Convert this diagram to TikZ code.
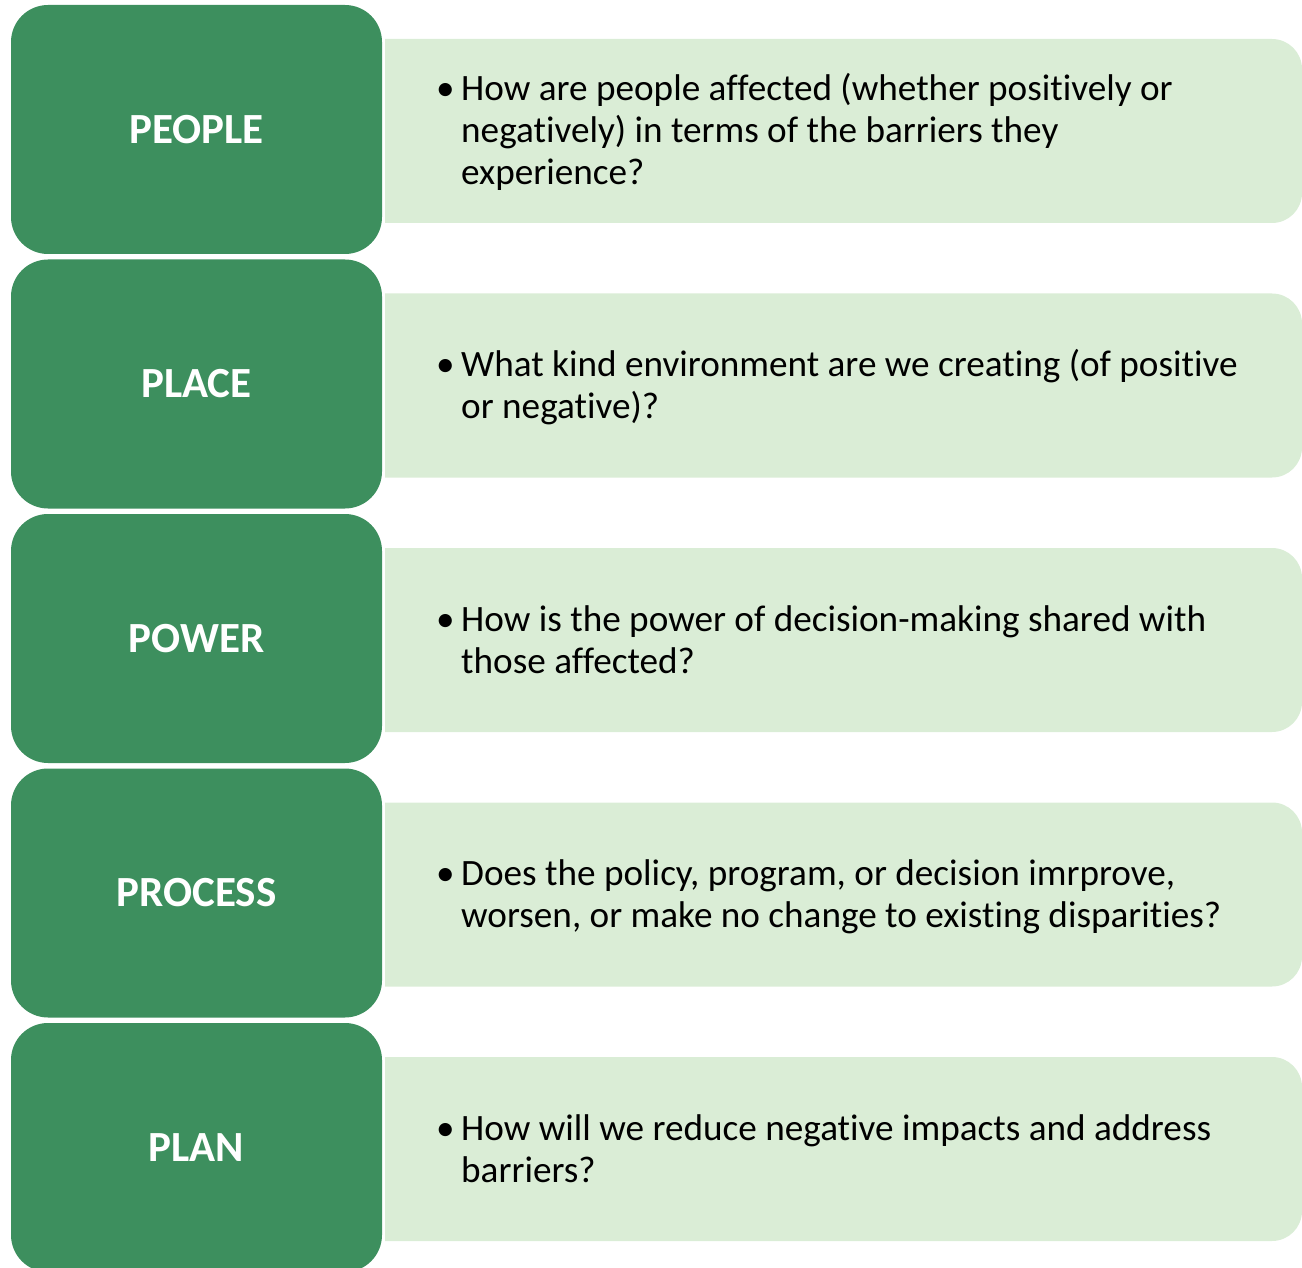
\documentclass[tikz,border=0pt]{standalone}
\usepackage{fontspec}
\setmainfont{Carlito}[Ligatures=NoCommon]
\definecolor{leafgreen}{HTML}{3D8F5E}
\definecolor{palegreen}{HTML}{DAEDD6}
% bullet followed by a block of lines with a hanging indent
\newcommand{\qitem}[1]{%
  \begin{tabular}{@{}l@{}l@{}}%
    \makebox[25pt][l]{\textbullet}&\begin{tabular}[t]{@{}l@{}}#1\end{tabular}%
  \end{tabular}}
\begin{document}
\begin{tikzpicture}[x=1pt,y=-1pt,
  catbox/.style={fill=leafgreen, rounded corners=37pt, minimum width=371pt,
    minimum height=249pt, inner sep=0pt, text=white,
    font=\fontsize{43}{50}\selectfont\bfseries},
  panel/.style={fill=palegreen},
  question/.style={anchor=west, inner sep=0pt, text=black,
    font=\fontsize{37.2}{42}\selectfont}]
\useasboundingbox (0,0) rectangle (1302,1268);

% light panels, square on the left and rounded on the right
\foreach \t in {39,293.5,548,802.5,1057}{
  \fill[panel] (385,\t) -- (1272,\t) arc(-90:0:30) -- (1302,\t+154)
    arc(0:90:30) -- (385,\t+184) -- cycle;
}

% category boxes
\node[catbox] (people)  at (196.5,129.5)  {PEOPLE};
\node[catbox] (place)   at (196.5,384)    {PLACE};
\node[catbox] (power)   at (196.5,638.5)  {POWER};
\node[catbox] (process) at (196.5,893)    {PROCESS};
\node[catbox] (plan)    at (196.5,1147.5) {PLAN};

% questions
\node[question] (q1) at (436,134.5) {\qitem{How are people affected (whether positively or\\negatively) in terms of the barriers they\\experience?}};
\node[question] (q2) at (436,389.5) {\qitem{What kind environment are we creating (of positive\\or negative)?}};
\node[question] (q3) at (436,644) {\qitem{How is the power of decision-making shared with\\those affected?}};
\node[question] (q4) at (436,898.5) {\qitem{Does the policy, program, or decision imrprove,\\worsen, or make no change to existing disparities?}};
\node[question] (q5) at (436,1153) {\qitem{How will we reduce negative impacts and address\\barriers?}};
\end{tikzpicture}
\end{document}
